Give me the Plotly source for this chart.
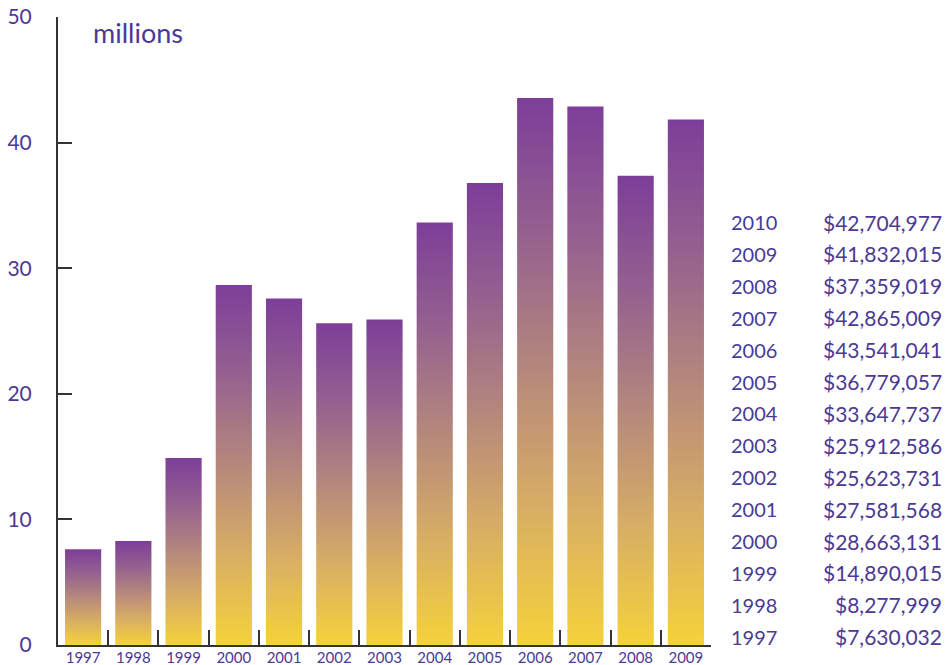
import plotly.graph_objects as go

years = ["1997", "1998", "1999", "2000", "2001", "2002", "2003", "2004",
         "2005", "2006", "2007", "2008", "2009"]
values_m = [7.630032, 8.277999, 14.890015, 28.663131, 27.581568, 25.623731,
            25.912586, 33.647737, 36.779057, 43.541041, 42.865009, 37.359019,
            41.832015]

table_years = ["2010", "2009", "2008", "2007", "2006", "2005", "2004", "2003",
               "2002", "2001", "2000", "1999", "1998", "1997"]
table_amounts = ["$42,704,977", "$41,832,015", "$37,359,019", "$42,865,009",
                 "$43,541,041", "$36,779,057", "$33,647,737", "$25,912,586",
                 "$25,623,731", "$27,581,568", "$28,663,131", "$14,890,015",
                 "$8,277,999", "$7,630,032"]

y_ticks = [0, 10, 20, 30, 40, 50]

TXT = "#4B3994"
AX = "#333333"
FONT = "Lato"
half = 0.36

W, H = 946, 665
ML, MR, MT, MB = 58, 235, 17, 20
PW, PH = W - ML - MR, H - MT - MB


def px_x(px):
    return (px - ML) / PW


def px_y(py):
    return (H - MB - py) / PH


grad = [[0.0, "#F5D23A"], [0.25, "#D8AE64"], [0.5, "#B5887C"],
        [0.75, "#95618F"], [1.0, "#7D3E99"]]

fig = go.Figure()
for i, v in enumerate(values_m):
    fig.add_trace(go.Scatter(
        x=[i - half, i + half, i + half, i - half, i - half],
        y=[0, 0, v, v, 0],
        mode="lines", line=dict(width=0), fill="toself",
        fillgradient=dict(type="vertical", colorscale=grad),
        hoverinfo="skip", showlegend=False, xaxis="x", yaxis="y"))

fig.add_trace(go.Scatter(x=list(range(len(years))), y=[0] * len(years),
                         mode="markers", marker=dict(opacity=0),
                         hoverinfo="skip", showlegend=False,
                         xaxis="x2", yaxis="y"))

n = len(years)
fig.update_layout(
    width=W, height=H,
    margin=dict(l=ML, r=MR, t=MT, b=MB, autoexpand=False),
    paper_bgcolor="white", plot_bgcolor="white",
    font=dict(family=FONT, color=TXT),
    xaxis=dict(range=[-0.5, n - 0.5], tickmode="array",
               tickvals=[k - 0.5 for k in range(n + 1)],
               showticklabels=False, ticks="inside", ticklen=15,
               tickwidth=2, tickcolor=AX, showline=True, linecolor=AX,
               linewidth=2, showgrid=False, zeroline=False, automargin=False),
    xaxis2=dict(range=[-0.5, n - 0.5], overlaying="x", anchor="y",
                side="bottom", tickmode="array",
                tickvals=list(range(n)), ticktext=years, ticks="",
                showline=False, showgrid=False, zeroline=False,
                automargin=False, ticklabelstandoff=2,
                tickfont=dict(size=15, color=TXT, family=FONT)),
    yaxis=dict(range=[0, 50], tickmode="array", tickvals=y_ticks,
               ticks="inside", ticklen=14, tickwidth=2, tickcolor=AX,
               showline=True, linecolor=AX, linewidth=2, showgrid=False,
               zeroline=False, ticklabelstandoff=20, automargin=False,
               tickfont=dict(size=21, color=TXT, family=FONT)),
)

fig.add_annotation(text="millions", xref="paper", yref="paper",
                   x=px_x(91), y=px_y(32), xanchor="left", yanchor="middle",
                   showarrow=False, font=dict(size=27, color=TXT, family=FONT))

row_top = 222
row_step = 31.9
for k, (yr, amt) in enumerate(zip(table_years, table_amounts)):
    ypix = row_top + k * row_step
    fig.add_annotation(text=yr, xref="paper", yref="paper", x=px_x(729),
                       y=px_y(ypix), xanchor="left", yanchor="middle",
                       showarrow=False,
                       font=dict(size=20, color=TXT, family=FONT))
    fig.add_annotation(text=amt, xref="paper", yref="paper", x=px_x(944),
                       y=px_y(ypix), xanchor="right", yanchor="middle",
                       showarrow=False,
                       font=dict(size=21, color=TXT, family=FONT))

fig.write_html("out.html", config={"displayModeBar": False},
               post_script="document.body.style.margin='0';"
                           "document.body.style.overflow='hidden';")
